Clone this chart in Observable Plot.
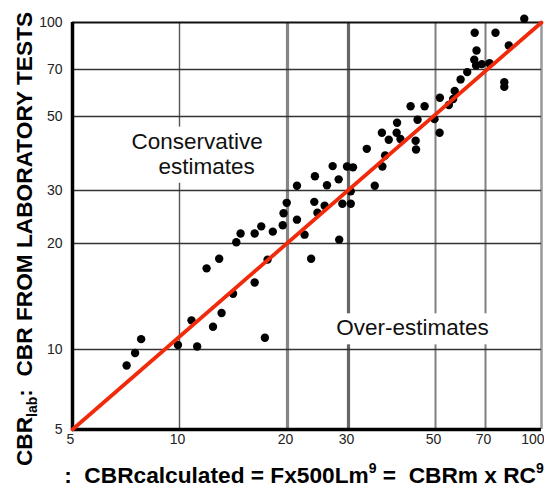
<!DOCTYPE html>
<html><head><meta charset="utf-8">
<script src="https://cdn.jsdelivr.net/npm/d3@7"></script>
<script src="https://cdn.jsdelivr.net/npm/@observablehq/plot@0.6"></script>
<style>
body{margin:0;background:#fff;}
#chart{width:544px;height:490px;}
</style></head><body><div id="chart"></div>
<script>
// CBR calculated (x) and CBR from laboratory tests (y)
const cbrCalculated = [7.1,7.5,7.8,9.9,11.2,10.8,12.4,13.1,14.1,16.2,17.3,17.6,11.9,12.9,14.4,14.8,16.2,16.9,18.2,19.4,19.5,19.9,21.3,22.4,23.4,23.9,25.6,24.4,28.2,28.8,30.4,30.4,21.3,24.0,26.0,28.1,27.0,29.7,30.8,35.0,33.4,36.6,37.2,36.5,38.0,39.9,39.8,40.7,43.2,46.9,44.5,44.6,45.0,49.7,51.4,51.5,54.7,56.3,56.9,59.2,61.9,64.9,65.9,65.1,65.7,68.3,71.8,74.6,78.9,78.9,81.2,89.6];
const cbrLab = [8.7,9.7,10.7,10.3,10.2,12.1,11.6,12.7,14.4,15.5,10.8,18.0,17.0,18.1,20.2,21.6,21.6,22.8,21.9,23.0,25.2,27.3,24.0,21.4,18.1,27.5,26.7,25.3,20.6,27.1,27.1,29.8,31.0,33.1,31.1,32.4,35.5,35.4,35.2,31.0,40.0,35.4,38.2,44.7,42.6,47.9,44.7,42.8,53.8,53.8,42.3,39.8,48.9,49.1,44.7,57.2,54.3,56.7,60.0,65.2,68.7,75.4,80.9,92.5,72.2,72.9,73.4,92.5,63.9,61.8,84.0,102.9];

const xTicks = [5,10,20,30,50,70,100];
const yTicks = [5,10,20,30,50,70,100];
const xGrid = [10,20,30,50,70,100];
const yGrid = [10,20,30,50,70];
const equalityLine = [5,100];

const annotText = ["Conservative","estimates","Over-estimates"];
const annotX = [11.2,11.9,43.7];
const annotY = [42.1,35.4,11.5];

const yTitle = {main:"CBR", sub:"lab", rest:":  CBR FROM LABORATORY TESTS"};
const xTitle = [":  CBRcalculated = Fx500Lm", "9", " =  CBRm x RC", "9"];

const points = cbrCalculated.map((x,i)=>({x, y: cbrLab[i]}));
const annots = annotText.map((t,i)=>({t, x: annotX[i], y: annotY[i]}));

const xGridStroke = d => d===10 ? "#555" : d===20 ? "#858585" : d===30 ? "#666" : d===100 ? "#999" : "#808080";
const xGridWidth = d => d===20||d===30 ? 3.2 : d===10 ? 1.4 : d===100 ? 2.5 : 2;

const chart = Plot.plot({
  width:544, height:490,
  marginLeft:72, marginRight:3, marginTop:22, marginBottom:61,
  style:{fontFamily:"'Liberation Sans', Arial, sans-serif", background:"#fff", overflow:"visible"},
  x:{type:"log", domain:xTicks, range:[72,179,287,348,435,485,541], axis:null},
  y:{type:"log", domain:yTicks, range:[429,349,243,190,116,69,22], axis:null},
  marks:[
    Plot.ruleX(xGrid, {x:d=>d, stroke:xGridStroke, strokeWidth:xGridWidth}),
    Plot.ruleY(yGrid, {y:d=>d, stroke:"#333", strokeWidth:1.6}),
    Plot.ruleY([100], {y:d=>d, stroke:"#111", strokeWidth:1.8}),
    Plot.text(annots, {x:"x", y:"y", text:"t", fontSize:22.5, fill:"#111", className:"annot"}),
    Plot.dot(points, {x:"x", y:"y", r:4.2, fill:"#000", stroke:"none"}),
    Plot.ruleX([5], {x:d=>d, stroke:"#000", strokeWidth:3.5}),
    Plot.ruleY([5], {y:d=>d, stroke:"#000", strokeWidth:3.5}),
    Plot.line(equalityLine, {x:d=>d, y:d=>d, stroke:"#f22a0c", strokeWidth:3.8}),
    Plot.text(yTicks, {y:d=>d, frameAnchor:"left", textAnchor:"end", dx:-10, fontSize:14, fill:"#222", text:d=>String(d)}),
    Plot.text(xTicks.slice(0,-1), {x:d=>d, frameAnchor:"bottom", lineAnchor:"top", textAnchor:"middle", dy:5, dx:-2, fontSize:14, fill:"#222", text:d=>String(d)}),
    Plot.text(xTicks.slice(-1), {x:d=>d, frameAnchor:"bottom", lineAnchor:"top", textAnchor:"end", dy:5, dx:3, fontSize:14, fill:"#222", text:d=>String(d)})
  ]
});
document.getElementById("chart").appendChild(chart);

const svg = d3.select(chart.tagName.toLowerCase()==="svg" ? chart : chart.querySelector("svg"));

// white backgrounds behind annotations
svg.selectAll("g.annot text").each(function(){
  const b = this.getBBox();
  const pad = 4;
  d3.select(this.parentNode).insert("rect", () => this)
    .attr("x", b.x-pad).attr("y", b.y-pad+2).attr("width", b.width+2*pad).attr("height", b.height+2*pad-2)
    .attr("transform", this.getAttribute("transform"))
    .attr("fill","#fff").attr("stroke","none");
});

// y title
const yt = svg.append("text")
  .attr("transform","translate(32,239) rotate(-90)")
  .attr("text-anchor","middle").attr("font-size",22.7).attr("font-weight","bold")
  .attr("fill","#000").style("white-space","pre");
yt.append("tspan").text(yTitle.main);
yt.append("tspan").attr("font-size",14).attr("dy",5).text(yTitle.sub);
yt.append("tspan").attr("dy",-5).text(yTitle.rest);

// x title
const xt = svg.append("text")
  .attr("x",304).attr("y",483)
  .attr("text-anchor","middle").attr("font-size",22.7).attr("font-weight","bold")
  .attr("fill","#000").style("white-space","pre");
xt.append("tspan").text(xTitle[0]);
xt.append("tspan").attr("font-size",14).attr("dy",-10).text(xTitle[1]);
xt.append("tspan").attr("dy",10).text(xTitle[2]);
xt.append("tspan").attr("font-size",14).attr("dy",-10).text(xTitle[3]);
</script>
</body></html>
